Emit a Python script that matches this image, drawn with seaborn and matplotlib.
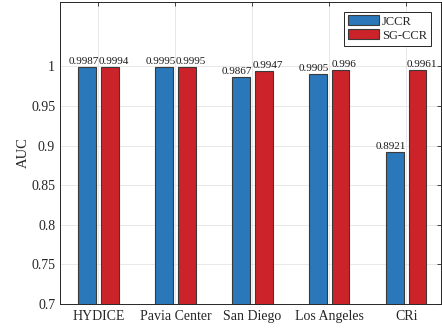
import matplotlib
matplotlib.use("Agg")
import matplotlib.pyplot as plt
import seaborn as sns
import pandas as pd

datasets = ["HYDICE", "Pavia Center", "San Diego", "Los Angeles", "CRi"]
methods = ["JCCR", "SG-CCR"]
jccr_auc = [0.9987, 0.9995, 0.9867, 0.9905, 0.8921]
sgccr_auc = [0.9994, 0.9995, 0.9947, 0.996, 0.9961]
yticks = [0.7, 0.75, 0.8, 0.85, 0.9, 0.95, 1.0]
ytick_labels = ["0.7", "0.75", "0.8", "0.85", "0.9", "0.95", "1"]

df = pd.DataFrame({
    "Dataset": datasets * 2,
    "Method": [methods[0]] * len(datasets) + [methods[1]] * len(datasets),
    "AUC": jccr_auc + sgccr_auc,
})

sns.set_theme(style="whitegrid")
plt.rcParams["font.family"] = ["Liberation Serif", "DejaVu Serif"]

fig = plt.figure(figsize=(4.42, 3.30), dpi=100)
ax = fig.add_axes([60 / 442, 26 / 330, 381 / 442, 302.5 / 330])

palette = {"JCCR": "#2a77b9", "SG-CCR": "#cc2229"}
sns.barplot(data=df, x="Dataset", y="AUC", hue="Method", order=datasets,
            hue_order=methods, palette=palette, width=0.58, gap=0.2,
            edgecolor="#3a3a3a", linewidth=0.8, saturation=1, ax=ax, zorder=2)

ax.set_ylim(0.7, 1.082)
ax.set_xlim(-0.5, 4.45)
ax.set_yticks(yticks)
ax.set_yticklabels(ytick_labels)
ax.set_xlabel("")
ax.set_ylabel("AUC", fontsize=10.5, color="#262626", labelpad=1)
ax.tick_params(axis="both", labelsize=10, colors="#262626", direction="in",
               length=3, width=0.6, top=True, right=True)
ax.tick_params(axis="x", pad=4)
ax.grid(True, color="#e8e8e8", linewidth=0.7, zorder=0)
ax.set_axisbelow(True)
for s in ax.spines.values():
    s.set_visible(True)
    s.set_color("#262626")
    s.set_linewidth(0.7)

# value labels above each bar
for cont, shift in zip(ax.containers, (-4, 4)):
    for bar, val in zip(cont, cont.datavalues):
        ax.annotate(f"{val:g}", (bar.get_x() + bar.get_width() / 2, bar.get_height()),
                    xytext=(shift, 1), textcoords="offset pixels",
                    ha="center", va="bottom", fontsize=8, color="#1a1a1a")

leg = ax.legend(loc="upper right", fontsize=9, frameon=True, fancybox=False,
                edgecolor="#262626", framealpha=1, handlelength=2.5,
                handleheight=0.85, borderpad=0.3, labelspacing=0.15,
                handletextpad=0.25, borderaxespad=0.8)
leg.get_frame().set_linewidth(0.7)

fig.savefig("out.png", dpi=100)
